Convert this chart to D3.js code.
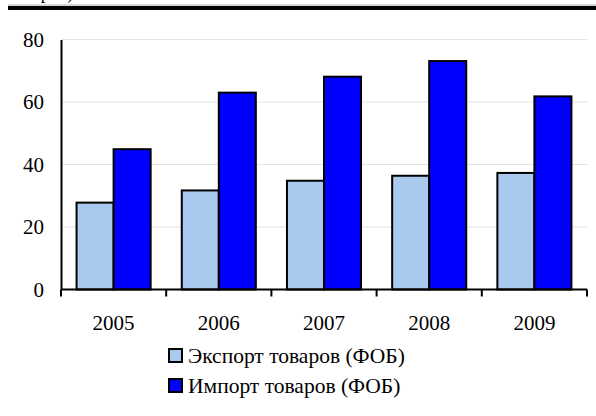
<html>
<head>
<script src="https://d3js.org/d3.v7.min.js"></script>
<style>
  body { margin: 0; background: #fff; }
  svg text { font-family: "Liberation Serif", "Times New Roman", serif !important; fill: #000; }
</style>
</head>
<body>
<svg id="chart" width="596" height="416"></svg>
<script>
const years = ["2005", "2006", "2007", "2008", "2009"];
const exportVals = [27.8, 31.7, 34.8, 36.4, 37.3];
const importVals = [44.9, 63.0, 68.1, 73.1, 61.8];
const seriesNames = ["Экспорт товаров (ФОБ)", "Импорт товаров (ФОБ)"];
const seriesColors = ["#a9caee", "#0000ff"];
const yTicks = [0, 20, 40, 60, 80];
const serif = '"Liberation Serif", "Times New Roman", serif';

const svg = d3.select("#chart");
const margin = {top: 39.5, left: 61, right: 9, bottom: 126.5};
const chartW = 596 - margin.left - margin.right;
const chartH = 416 - margin.top - margin.bottom;

// cut-off header from the page above
svg.append("line").attr("x1", 8).attr("x2", 596).attr("y1", 5).attr("y2", 5)
  .attr("stroke", "#aaa").attr("stroke-width", 1);
svg.append("rect").attr("x", 8).attr("y", 6).attr("width", 588).attr("height", 4).attr("fill", "#000");
svg.append("text").attr("x", 31).attr("y", -1)
  .style("font-family", serif).style("font-size", "18px").text("пров)");

const x = d3.scaleBand().domain(years).range([0, chartW]);
const inner = d3.scaleBand().domain([0, 1]).range([x.bandwidth() * 0.148, x.bandwidth() * 0.852]);
const y = d3.scaleLinear().domain([0, 80]).range([chartH, 0]);

const g = svg.append("g").attr("transform", `translate(${margin.left},${margin.top})`);

// gridlines
g.append("g").selectAll("line").data(yTicks.filter(d => d > 0)).join("line")
  .attr("x1", 1).attr("x2", chartW)
  .attr("y1", d => y(d)).attr("y2", d => y(d))
  .attr("stroke", "#e3e3e3").attr("stroke-width", 1);

// bars
const rows = years.map((yr, i) => ({year: yr, vals: [exportVals[i], importVals[i]]}));
const groups = g.selectAll("g.grp").data(rows).join("g")
  .attr("class", "grp")
  .attr("transform", d => `translate(${x(d.year)},0)`);
groups.selectAll("rect").data(d => d.vals.map((v, k) => ({v, k}))).join("rect")
  .attr("x", d => inner(d.k))
  .attr("width", inner.bandwidth())
  .attr("y", d => y(d.v))
  .attr("height", d => chartH - y(d.v))
  .attr("fill", d => seriesColors[d.k])
  .attr("stroke", "#000").attr("stroke-width", 2);

// y axis
const yAxis = d3.axisLeft(y).tickValues(yTicks).tickSize(0).tickPadding(17);
const ya = g.append("g").call(yAxis);
ya.attr("font-family", serif);
ya.select(".domain").attr("stroke", "#000").attr("stroke-width", 2);
ya.selectAll("text").style("font-family", serif).style("font-size", "21px");

// x axis with ticks at category boundaries
g.append("line").attr("x1", 0).attr("x2", chartW).attr("y1", chartH).attr("y2", chartH)
  .attr("stroke", "#000").attr("stroke-width", 2);
const bounds = years.map(yr => x(yr)).concat([chartW]);
g.selectAll("line.xt").data(bounds).join("line").attr("class", "xt")
  .attr("x1", d => d).attr("x2", d => d)
  .attr("y1", chartH).attr("y2", chartH + 7)
  .attr("stroke", "#000").attr("stroke-width", 2);
g.selectAll("text.xl").data(years).join("text").attr("class", "xl")
  .attr("x", d => x(d) + x.bandwidth() / 2)
  .attr("y", chartH + 40)
  .attr("text-anchor", "middle")
  .style("font-family", serif)
  .style("font-size", "21px")
  .text(d => d);

// legend
const leg = svg.append("g").attr("transform", "translate(168,348)");
seriesNames.forEach((name, i) => {
  leg.append("rect").attr("x", 1).attr("y", i * 30 + 1).attr("width", 13).attr("height", 13)
    .attr("fill", seriesColors[i]).attr("stroke", "#000").attr("stroke-width", 2);
  leg.append("text").attr("x", 20).attr("y", i * 30 + 15)
    .style("font-family", serif).style("font-size", "21.5px").text(name);
});
</script>
</body>
</html>
